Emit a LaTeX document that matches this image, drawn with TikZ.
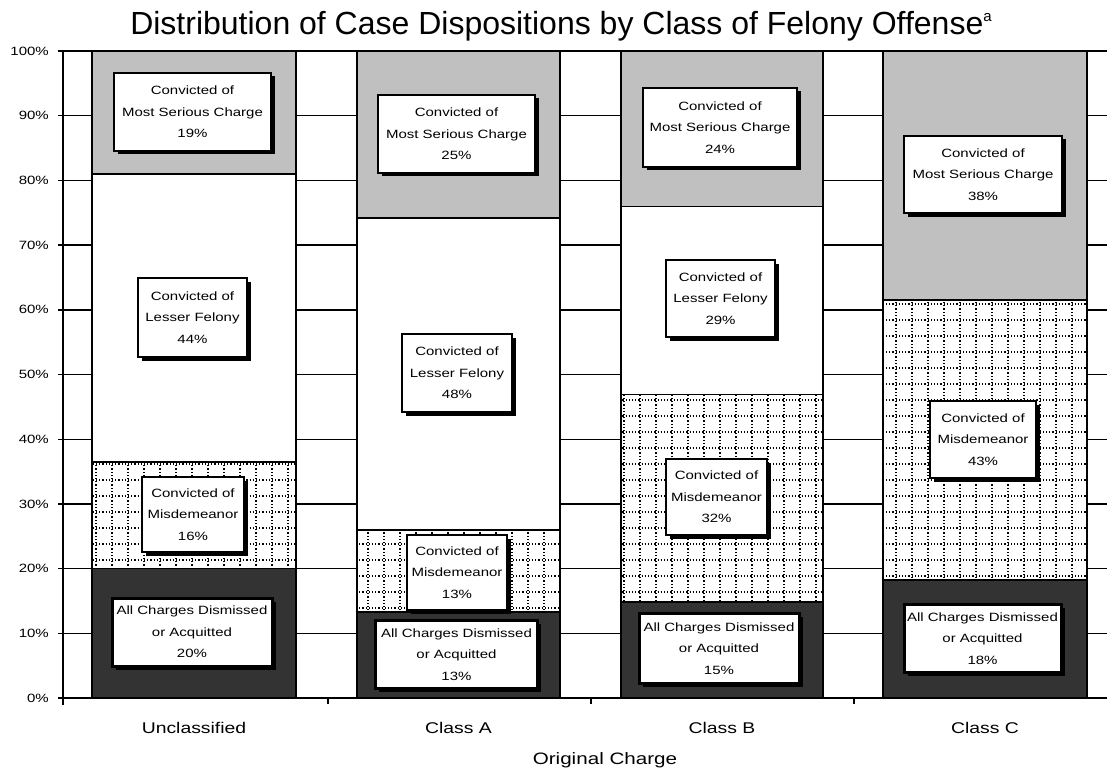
\documentclass[tikz,border=0pt]{standalone}
\usepackage{fontspec}
\setmainfont{Liberation Sans}
\newfontfamily\labfont{Liberation Sans}[FakeStretch=1.25]
\usetikzlibrary{shadows}
\definecolor{topgray}{HTML}{C0C0C0}
\definecolor{darkseg}{HTML}{333333}
\tikzset{
  seg/.style={draw=black, line width=1.5pt},
  gridl/.style={draw=black, line width=1.4pt},
  dotgrid/.style={draw=black, line width=1.2pt, dash pattern=on 1.2pt off 2pt, step=16pt},
  lbox/.style={draw=black, fill=white, line width=1.5pt,
    general shadow={fill=black, shadow xshift=3.5pt, shadow yshift=-3.5pt},
    font=\labfont\fontsize{12}{21.5}\selectfont, align=center, inner sep=0pt},
  dbox/.style={lbox, line width=3pt},
  ylab/.style={anchor=east, inner sep=0pt, font=\labfont\fontsize{12}{14}\selectfont},
  catlab/.style={inner sep=0pt, font=\labfont\fontsize{15.5}{18}\selectfont},
  axtitle/.style={inner sep=0pt, font=\labfont\fontsize{16.5}{19}\selectfont},
  ttl/.style={inner sep=0pt, anchor=base, font=\fontsize{32}{36}\selectfont}
}
\begin{document}
\begin{tikzpicture}[x=1pt,y=-1pt]
\useasboundingbox (0,0) rectangle (1107,770);
% horizontal gridlines and y ticks
\foreach \p/\t in {0/0\%,10/10\%,20/20\%,30/30\%,40/40\%,50/50\%,60/60\%,70/70\%,80/80\%,90/90\%,100/100\%}{
  \coordinate (gl\p) at (63,{698-6.47*\p});
  \coordinate (gr\p) at (1107,{698-6.47*\p});
  \coordinate (gt\p) at (58,{698-6.47*\p});
  \draw[gridl] (gt\p) -- (gr\p);
  \node[ylab] (yl\p) at (49,{698-6.47*\p}) {\t};
}
% ---------- Unclassified
\path[seg, fill=darkseg] (92,698) rectangle (296,568.6);
\path[seg, fill=white] (92,568.6) rectangle (296,461.8);
\begin{scope}\clip (92,568.6) rectangle (296,461.8);
\draw[dotgrid] (80,700) grid (310,440);\end{scope}
\path[seg] (92,568.6) rectangle (296,461.8);
\path[seg, fill=white] (92,461.8) rectangle (296,173.9);
\path[seg, fill=topgray] (92,173.9) rectangle (296,51);
% ---------- Class A
\path[seg, fill=darkseg] (357,698) rectangle (560,612);
\path[seg, fill=white] (357,612) rectangle (560,529.8);
\begin{scope}\clip (357,612) rectangle (560,529.8);
\draw[dotgrid] (340,700) grid (580,500);\end{scope}
\path[seg] (357,612) rectangle (560,529.8);
\path[seg, fill=white] (357,529.8) rectangle (560,218);
\path[seg, fill=topgray] (357,218) rectangle (560,51);
% ---------- Class B
\path[seg, fill=darkseg] (621,698) rectangle (823,602.2);
\path[seg, fill=white] (621,602.2) rectangle (823,394.5);
\begin{scope}\clip (621,602.2) rectangle (823,394.5);
\draw[dotgrid] (600,700) grid (840,380);\end{scope}
\path[seg] (621,602.2) rectangle (823,394.5);
\path[seg, fill=white] (621,394.5) rectangle (823,206.5);
\path[seg, fill=topgray] (621,206.5) rectangle (823,51);
% ---------- Class C
\path[seg, fill=darkseg] (883,698) rectangle (1087,580.2);
\path[seg, fill=white] (883,580.2) rectangle (1087,300.1);
\begin{scope}\clip (883,580.2) rectangle (1087,300.1);
\draw[dotgrid] (870,700) grid (1100,280);\end{scope}
\path[seg] (883,580.2) rectangle (1087,300.1);
\path[seg, fill=topgray] (883,300.1) rectangle (1087,51);
% ---------- axes
\coordinate (ya) at (63,51);
\coordinate (yb) at (63,705);
\draw[gridl] (ya) -- (yb);
\coordinate (xa) at (63,698);
\coordinate (xb) at (1107,698);
\draw[gridl] (xa) -- (xb);
\foreach \x in {328,591,854}{
  \coordinate (xt\x) at (\x,698);
  \coordinate (xu\x) at (\x,704);
  \draw[gridl] (xt\x) -- (xu\x);
}
% ---------- label boxes
\node[lbox, minimum width=157pt, minimum height=78pt] (uMS) at (192.5,112) {Convicted of\\Most Serious Charge\\19\%};
\node[lbox, minimum width=109pt, minimum height=79pt] (uLF) at (192.5,317.5) {Convicted of\\Lesser Felony\\44\%};
\node[lbox, minimum width=102pt, minimum height=75pt] (uMD) at (193,514.5) {Convicted of\\Misdemeanor\\16\%};
\node[dbox, minimum width=160pt, minimum height=68pt] (uDS) at (192,632) {All Charges Dismissed\\or Acquitted\\20\%};

\node[lbox, minimum width=157pt, minimum height=78pt] (aMS) at (456.5,134) {Convicted of\\Most Serious Charge\\25\%};
\node[lbox, minimum width=110pt, minimum height=78pt] (aLF) at (457,373) {Convicted of\\Lesser Felony\\48\%};
\node[lbox, minimum width=100pt, minimum height=75pt] (aMD) at (457,572.5) {Convicted of\\Misdemeanor\\13\%};
\node[dbox, minimum width=162pt, minimum height=68pt] (aDS) at (456.5,654.5) {All Charges Dismissed\\or Acquitted\\13\%};

\node[lbox, minimum width=154pt, minimum height=79pt] (bMS) at (720,127.5) {Convicted of\\Most Serious Charge\\24\%};
\node[lbox, minimum width=109pt, minimum height=77pt] (bLF) at (720.5,298.5) {Convicted of\\Lesser Felony\\29\%};
\node[lbox, minimum width=101pt, minimum height=76pt] (bMD) at (716.5,497) {Convicted of\\Misdemeanor\\32\%};
\node[dbox, minimum width=160pt, minimum height=70pt] (bDS) at (719,648.5) {All Charges Dismissed\\or Acquitted\\15\%};

\node[lbox, minimum width=158pt, minimum height=77pt] (cMS) at (983,174.5) {Convicted of\\Most Serious Charge\\38\%};
\node[lbox, minimum width=106pt, minimum height=77pt] (cMD) at (983,439.5) {Convicted of\\Misdemeanor\\43\%};
\node[dbox, minimum width=157pt, minimum height=68pt] (cDS) at (982.5,638.5) {All Charges Dismissed\\or Acquitted\\18\%};
% ---------- category labels and titles
\node[catlab] (cat1) at (194,728) {Unclassified};
\node[catlab] (cat2) at (458.5,728) {Class A};
\node[catlab] (cat3) at (722,728) {Class B};
\node[catlab] (cat4) at (985,728) {Class C};
\node[axtitle] (xtitle) at (605,760) {Original Charge};
\node[ttl] (title) at (561,35) {Distribution of Case Dispositions by Class of Felony Offense\raisebox{0.42em}{\fontsize{15}{15}\selectfont a}};
\end{tikzpicture}
\end{document}
